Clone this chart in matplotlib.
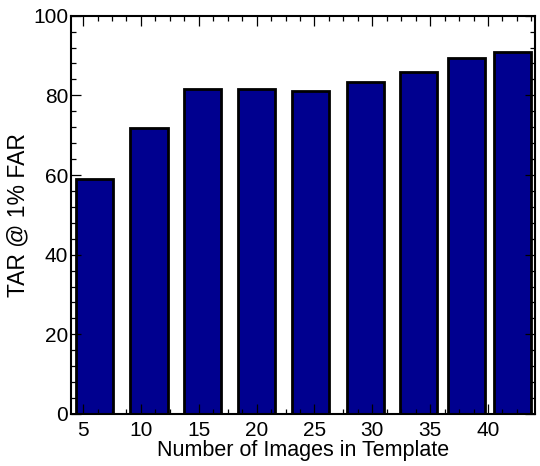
import matplotlib
matplotlib.use('Agg')
import matplotlib.pyplot as plt
from matplotlib.ticker import MultipleLocator

# data
bar_x = [6.0, 10.7, 15.3, 20.0, 24.7, 29.4, 34.0, 38.1, 42.1]   # bar centres on the x scale
tar = [59.0, 71.9, 81.7, 81.7, 81.2, 83.4, 85.8, 89.3, 91.0]
xtick_vals = [5, 10, 15, 20, 25, 30, 35, 40]

plt.rcParams['font.family'] = ['Liberation Sans', 'DejaVu Sans']
plt.rcParams['font.size'] = 15.5

fig = plt.figure(figsize=(5.4, 4.66), dpi=100)
ax = fig.add_axes([0.1315, 0.1116, 0.8592, 0.8547])

ax.bar(bar_x, tar, width=3.2, color='#00008F', edgecolor='black', linewidth=2.0)

ax.set_xlim(3.96, 44.06)
ax.set_ylim(0, 100)
ax.set_xticks(xtick_vals)
ax.xaxis.set_minor_locator(MultipleLocator(1.25))
ax.set_yticks([0, 20, 40, 60, 80, 100])
ax.yaxis.set_minor_locator(MultipleLocator(4))

ax.tick_params(which='both', direction='in', top=True, right=True, width=0.9, color='black', labelsize=15)
ax.tick_params(which='major', length=7)
ax.tick_params(which='minor', length=3.5)
ax.tick_params(axis='x', pad=5)
ax.tick_params(axis='y', pad=2)

for sp in ax.spines.values():
    sp.set_linewidth(1.5)

ax.set_xlabel('Number of Images in Template', labelpad=0, fontsize=15.5)
ax.set_ylabel('TAR @ 1% FAR', labelpad=3, fontsize=16.5)

fig.savefig('out.png', dpi=100)
